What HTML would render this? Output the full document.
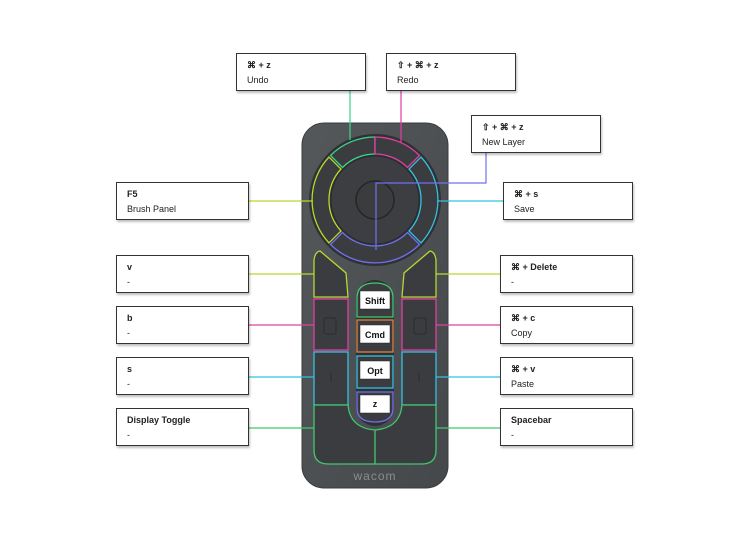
<!DOCTYPE html>
<html><head><meta charset="utf-8"><style>
html,body{margin:0;padding:0;background:#fff;}
body{width:752px;height:555px;position:relative;overflow:hidden;font-family:"Liberation Sans",sans-serif;}
.b{position:absolute;width:128px;height:36px;border:1px solid #333;background:#fff;box-shadow:1px 2px 2px rgba(0,0,0,.25);font-size:9px;color:#222;}
.b .t{position:absolute;left:10px;top:6px;font-weight:bold;}
.b .s{position:absolute;left:10px;top:21px;}
svg{position:absolute;left:0;top:0;}
</style></head><body>
<svg width="752" height="555" viewBox="0 0 752 555">
<defs>
<linearGradient id="dev" x1="0" y1="0" x2="1" y2="1"><stop offset="0" stop-color="#55585b"/><stop offset="1" stop-color="#45484b"/></linearGradient>
</defs>
<rect x="302" y="123" width="146" height="365" rx="22" fill="url(#dev)" stroke="#3a3c3e"/>
<!-- wheel -->
<circle cx="375" cy="200" r="66" fill="#2f3133"/>
<g fill="#3a3c3f" stroke-width="1.3">
<path d="M375 137 A63 63 0 0 0 330.5 155.5 L342.5 167.5 A46 46 0 0 1 375 154 Z" stroke="#3dd68c"/>
<path d="M375 137 A63 63 0 0 1 419.5 155.5 L407.5 167.5 A46 46 0 0 0 375 154 Z" stroke="#e040a0"/>
<path d="M421 157 A63 63 0 0 1 421 243 L409 231 A46 46 0 0 0 409 169 Z" stroke="#35c0e0"/>
<path d="M419.5 244.5 A63 63 0 0 1 330.5 244.5 L342.5 232.5 A46 46 0 0 0 407.5 232.5 Z" stroke="#7070f0"/>
<path d="M329 243 A63 63 0 0 1 329 157 L341 169 A46 46 0 0 0 341 231 Z" stroke="#b8d830"/>
</g>
<circle cx="375" cy="200" r="44" fill="#3c3e41" stroke="#2a2c2e"/>
<circle cx="375" cy="200" r="19" fill="#3a3c3e" stroke="#252628" stroke-width="1.5"/>
<!-- left column -->
<g fill="#3a3c3f" stroke-width="1.3">
<path d="M314 297 L314 260 Q315 252 320 251 L346 273 L348 297 Z" stroke="#b8d830"/>
<path d="M436 297 L436 260 Q435 252 430 251 L404 273 L402 297 Z" stroke="#b8d830"/>
<rect x="314" y="299" width="34" height="51" stroke="#e040a0"/>
<rect x="402" y="299" width="34" height="51" stroke="#e040a0"/>
<rect x="314" y="352" width="34" height="53" stroke="#35c0e0"/>
<rect x="402" y="352" width="34" height="53" stroke="#35c0e0"/>
<path d="M314 405 L348 405 Q350 428 375 430 Q400 428 402 405 L436 405 L436 450 Q436 464 422 464 L328 464 Q314 464 314 450 Z" stroke="#40c870"/>
<line x1="375" y1="430" x2="375" y2="464" stroke="#40c870" stroke-width="1.3"/>
<rect x="356" y="280" width="38" height="146" rx="19" fill="#2e3032"/>
<path d="M357 317 L357 298 Q357 283 375 283 Q393 283 393 298 L393 317 Z" stroke="#40c870"/>
<rect x="357" y="320" width="36" height="32" stroke="#e08040"/>
<rect x="357" y="356" width="36" height="32" stroke="#35c0e0"/>
<path d="M357 392 L393 392 L393 408 Q393 422 375 422 Q357 422 357 408 Z" stroke="#7070f0"/>
</g>
<rect x="324" y="318" width="12" height="16" rx="2" fill="none" stroke="#2a2c2e"/>
<rect x="414" y="318" width="12" height="16" rx="2" fill="none" stroke="#2a2c2e"/>
<line x1="331" y1="373" x2="331" y2="382" stroke="#2a2c2e"/>
<line x1="419" y1="373" x2="419" y2="382" stroke="#2a2c2e"/>
<g fill="#fff" stroke="#222" stroke-width=".5">
<rect x="360" y="291" width="30" height="18"/><rect x="360" y="325" width="30" height="18"/>
<rect x="360" y="361" width="30" height="18"/><rect x="360" y="395" width="30" height="18"/>
</g>
<g font-family="Liberation Sans,sans-serif" font-size="9" font-weight="bold" fill="#111" text-anchor="middle">
<text x="375" y="304">Shift</text><text x="375" y="338">Cmd</text><text x="375" y="374">Opt</text><text x="375" y="407">z</text>
</g>
<text x="375" y="480" font-family="Liberation Sans,sans-serif" font-size="12" fill="#8a8d90" text-anchor="middle" letter-spacing="1">wacom</text>
<!-- connectors -->
<g fill="none" stroke-width="1.2">
<path d="M350 91 V140" stroke="#3dd68c"/>
<path d="M401 91 V142" stroke="#e040a0"/>
<path d="M486 153 V183 H376 V250" stroke="#7070f0"/>
<path d="M248 201 H313" stroke="#b8d830"/>
<path d="M437 201 H503" stroke="#35c0e0"/>
<path d="M248 274 H314 M436 274 H500" stroke="#b8d830"/>
<path d="M248 325 H314 M436 325 H500" stroke="#e040a0"/>
<path d="M248 377 H314 M436 377 H500" stroke="#35c0e0"/>
<path d="M248 428 H314 M436 428 H500" stroke="#40c870"/>
</g>
</svg>
<div class="b" style="left:236px;top:53px"><span class="t">⌘ + z</span><span class="s">Undo</span></div>
<div class="b" style="left:386px;top:53px"><span class="t">⇧ + ⌘ + z</span><span class="s">Redo</span></div>
<div class="b" style="left:471px;top:115px"><span class="t">⇧ + ⌘ + z</span><span class="s">New Layer</span></div>
<div class="b" style="left:116px;top:182px;width:131px"><span class="t">F5</span><span class="s">Brush Panel</span></div>
<div class="b" style="left:503px;top:182px"><span class="t">⌘ + s</span><span class="s">Save</span></div>
<div class="b" style="left:116px;top:255px;width:131px"><span class="t">v</span><span class="s">-</span></div>
<div class="b" style="left:116px;top:306px;width:131px"><span class="t">b</span><span class="s">-</span></div>
<div class="b" style="left:116px;top:357px;width:131px"><span class="t">s</span><span class="s">-</span></div>
<div class="b" style="left:116px;top:408px;width:131px"><span class="t">Display Toggle</span><span class="s">-</span></div>
<div class="b" style="left:500px;top:255px;width:131px"><span class="t">⌘ + Delete</span><span class="s">-</span></div>
<div class="b" style="left:500px;top:306px;width:131px"><span class="t">⌘ + c</span><span class="s">Copy</span></div>
<div class="b" style="left:500px;top:357px;width:131px"><span class="t">⌘ + v</span><span class="s">Paste</span></div>
<div class="b" style="left:500px;top:408px;width:131px"><span class="t">Spacebar</span><span class="s">-</span></div>
</body></html>
